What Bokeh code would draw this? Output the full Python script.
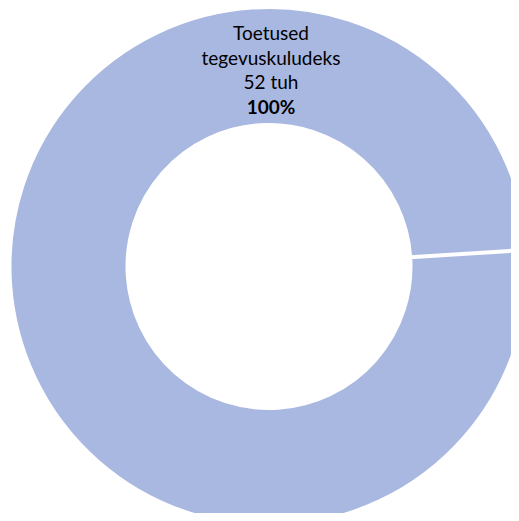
import math
from bokeh.plotting import figure
from bokeh.models import Range1d, ColumnDataSource
from bokeh.core.properties import value
from bokeh.embed import file_html
from bokeh.resources import INLINE

# data
categories = ["Toetused tegevuskuludeks"]
label_lines = [["Toetused", "tegevuskuludeks", "52 tuh"]]
values = [52]
percent_labels = ["100%"]

total = sum(values)
start_deg = 3.7
colors = ["#A9B8E0"]

W, H = 511, 513
p = figure(width=W, height=H, output_backend="svg", toolbar_location=None,
           x_range=Range1d(0, W), y_range=Range1d(0, H), min_border=0)
p.axis.visible = False
p.grid.visible = False
p.outline_line_color = None
p.background_fill_color = "white"

cx, cy = 268.5, 247.0
r_out, r_in = 259.5, 141.5

starts, ends = [], []
a = math.radians(start_deg)
for v in values:
    starts.append(a)
    a += 2 * math.pi * v / total
    ends.append(a)

src = ColumnDataSource(dict(cat=categories, start=starts, end=ends, color=colors))
p.annular_wedge(x=cx, y=cy, inner_radius=r_in, outer_radius=r_out,
                start_angle="start", end_angle="end", fill_color="color",
                line_color="white", line_width=4, direction="anticlock", source=src)

lab_r = 197
font = value("Lato")
for i, lines in enumerate(label_lines):
    mid = math.pi / 2  # single 100% slice: label sits at the top
    lx = cx + lab_r * math.cos(mid) + 2
    ly = cy + lab_r * math.sin(mid)
    n = len(lines) + 1
    step = 24.5
    offs = [(-(n - 1) / 2 + k) * step for k in range(n)]
    for k, t in enumerate(lines):
        p.text(x=[lx], y=[ly], text=[t], y_offset=offs[k], text_align="center",
               text_baseline="middle", text_font=font, text_font_size="19px",
               text_color="#000000")
    p.text(x=[lx], y=[ly], text=[percent_labels[i]], y_offset=offs[-1], text_align="center",
           text_baseline="middle", text_font=font, text_font_size="19px",
           text_font_style="bold", text_color="#000000")

open("out.html", "w").write(file_html(p, INLINE))
